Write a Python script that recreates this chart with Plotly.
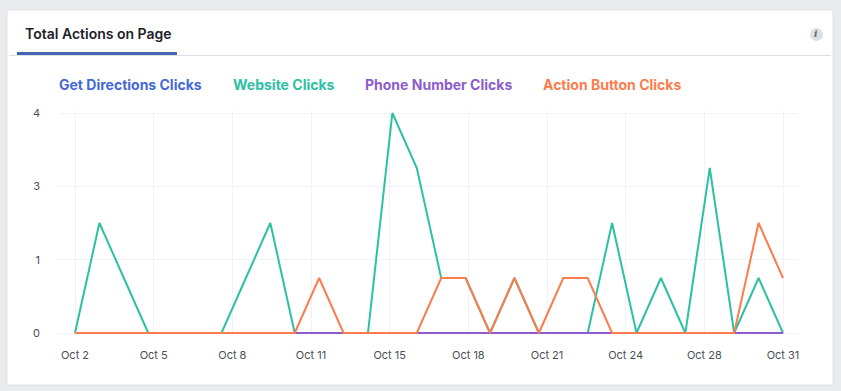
import plotly.graph_objects as go

W, H = 841, 391
days = list(range(2, 32))
directions = [0] * 30
website = [0, 2, 1, 0, 0, 0, 0, 1, 2, 0, 0, 0, 0, 4, 3, 1, 1, 0, 1, 0, 0, 0, 2, 0, 1, 0, 3, 0, 1, 0]
phone = [0] * 30
action = [0, 0, 0, 0, 0, 0, 0, 0, 0, 0, 1, 0, 0, 0, 0, 1, 1, 0, 1, 0, 1, 1, 0, 0, 0, 0, 0, 0, 2, 1]
series_names = ["Get Directions Clicks", "Website Clicks", "Phone Number Clicks", "Action Button Clicks"]
series_colors = ["#4469d6", "#2dc0a3", "#8c5ccc", "#fb7c4c"]
legend_left = [57, 231, 363, 541]
x_tick_text = ["Oct 2", "Oct 5", "Oct 8", "Oct 11", "Oct 15", "Oct 18", "Oct 21", "Oct 24", "Oct 28", "Oct 31"]
y_tick_text = ["0", "1", "3", "4"]
x_tick_vals = [2 + i * 29 / 9 for i in range(10)]
y_tick_vals = [i * 4 / 3 for i in range(4)]

FONT = "Inter, 'Liberation Sans', Arial, sans-serif"
GRID = "#f1f2f4"
ML, MR, MT, MB = 59, 43, 111, 56
PW, PH = W - ML - MR, H - MT - MB


def px(x):
    return (x - ML) / PW


def py(y):
    return 1 - (y - MT) / PH


fig = go.Figure()
for name, vals, color in zip(series_names, [directions, website, phone, action], series_colors):
    fig.add_trace(go.Scatter(x=days, y=vals, mode="lines", name=name,
                             line=dict(color=color, width=2), cliponaxis=False))

shapes = []
def rect(x0, y0, x1, y1, fill, line=None):
    shapes.append(dict(type="rect", xref="paper", yref="paper", x0=px(x0), x1=px(x1), y0=py(y0), y1=py(y1),
                       fillcolor=fill, line=dict(color=line or fill, width=1 if line else 0), layer="below"))

rect(7, 10, 833, 385, "#ffffff", "#dfe1e5")
rect(9, 55, 831, 56, "#dddfe2")
rect(17, 52, 177, 55, "#4267b2")
shapes.append(dict(type="circle", xref="paper", yref="paper", x0=px(810), x1=px(823), y0=py(28), y1=py(41),
                   fillcolor="#dddfe2", line=dict(width=0), layer="below"))

annotations = [
    dict(text="Total Actions on Page", x=px(23), y=py(33), xref="paper", yref="paper", xanchor="left",
         yanchor="middle", showarrow=False, font=dict(family=FONT, size=14, weight=600, color="#1d2129")),
    dict(text="<i>i</i>", x=px(816.5), y=py(34.5), xref="paper", yref="paper", xanchor="center", yanchor="middle",
         showarrow=False, font=dict(family="'DejaVu Serif', serif", size=9, weight=700, color="#606770")),
]
for name, left, color in zip(series_names, legend_left, series_colors):
    annotations.append(dict(text=name, x=px(left), y=py(84.5), xref="paper", yref="paper", xanchor="left",
                            yanchor="middle", showarrow=False, font=dict(family=FONT, size=14, weight=700, color=color)))

fig.update_layout(
    width=W, height=H, autosize=False, showlegend=False,
    paper_bgcolor="#e9ebee", plot_bgcolor="rgba(0,0,0,0)",
    margin=dict(l=ML, r=MR, t=MT, b=MB),
    shapes=shapes, annotations=annotations, hovermode="x",
    font=dict(family=FONT, size=11, color="#4b4f56"),
    xaxis=dict(range=[2 - 16 / 24.41, 31 + 15 / 24.41], tickmode="array", tickvals=x_tick_vals, ticktext=x_tick_text,
               showgrid=True, gridcolor=GRID, gridwidth=1, zeroline=False, showline=False, ticks="", ticklabelstandoff=12,
               tickangle=0),
    yaxis=dict(range=[-2 / 55, 4 + 2 / 55], tickmode="array", tickvals=y_tick_vals, ticktext=y_tick_text,
               showgrid=True, gridcolor=GRID, gridwidth=1, zeroline=False, showline=False, ticks="", ticklabelstandoff=18),
)
fig.write_html("out.html", config={"displayModeBar": False},
               post_script="document.body.style.margin='0';document.body.style.overflow='hidden';")
